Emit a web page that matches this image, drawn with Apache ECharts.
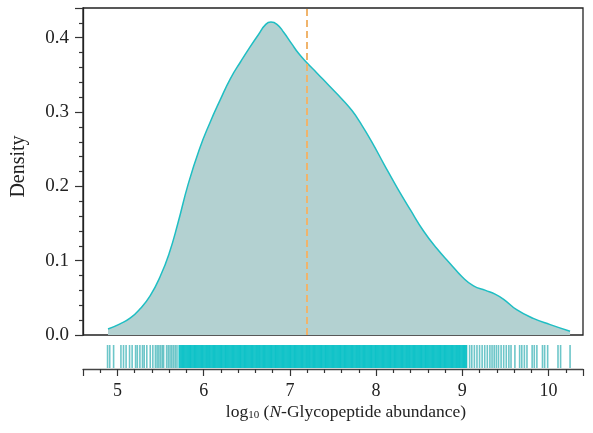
<!DOCTYPE html>
<html>
<head>
<meta charset="utf-8">
<script src="https://cdn.jsdelivr.net/npm/echarts@6/dist/echarts.min.js"></script>
<style>
  html, body { margin: 0; padding: 0; background: #fff; }
  #chart-container { width: 593px; height: 433px; }
</style>
</head>
<body>
<div id="chart-container"></div>
<script>
// density curve: x = log10 abundance, y = density
var densityX = [4.89, 5.03, 5.15, 5.26, 5.38, 5.50, 5.60, 5.70, 5.82, 5.95, 6.07, 6.19, 6.31, 6.43, 6.54, 6.64, 6.72,
    6.78, 6.85, 6.93, 7.02, 7.10, 7.20, 7.31, 7.45, 7.60, 7.72, 7.82, 7.95, 8.10, 8.25, 8.40, 8.55, 8.70,
    8.86, 9.00, 9.13, 9.27, 9.38, 9.48, 9.63, 9.83, 10.02, 10.25];
var densityY = [0.008, 0.015, 0.023, 0.035, 0.053, 0.080, 0.110, 0.150, 0.203, 0.250, 0.285, 0.316, 0.345, 0.368, 0.388, 0.405, 0.418,
    0.421, 0.418, 0.407, 0.392, 0.379, 0.366, 0.353, 0.336, 0.318, 0.302, 0.285, 0.260, 0.228, 0.197, 0.168, 0.140, 0.117,
    0.096, 0.078, 0.066, 0.060, 0.055, 0.048, 0.034, 0.022, 0.014, 0.005];

var medianX = 7.2;

// rug marks
var rugSparse = [4.885, 4.91, 4.955, 5.04, 5.07, 5.10, 5.14, 5.17, 5.21, 5.23, 5.26, 5.29, 5.31, 5.34, 5.38, 5.41,
    5.44, 5.46, 5.48, 5.50, 5.52, 5.535, 5.57, 5.59, 5.61, 5.63, 5.65, 5.67, 5.69,
    9.05, 9.085, 9.11, 9.14, 9.17, 9.2, 9.23, 9.26, 9.29, 9.32, 9.345, 9.37, 9.395, 9.42, 9.45, 9.48, 9.51,
    9.54, 9.565, 9.61, 9.665, 9.69, 9.72, 9.75, 9.81, 9.835, 9.865, 9.93, 9.955, 9.99, 10.11, 10.14, 10.25];
var rugDense = [
    5.72, 5.74, 5.76, 5.78, 5.80, 5.82, 5.84, 5.86, 5.88, 5.90,
    5.92, 5.94, 5.96, 5.98, 6.00, 6.02, 6.04, 6.06, 6.08, 6.10,
    6.12, 6.14, 6.16, 6.18, 6.20, 6.22, 6.24, 6.26, 6.28, 6.30,
    6.32, 6.34, 6.36, 6.38, 6.40, 6.42, 6.44, 6.46, 6.48, 6.50,
    6.52, 6.54, 6.56, 6.58, 6.60, 6.62, 6.64, 6.66, 6.68, 6.70,
    6.72, 6.74, 6.76, 6.78, 6.80, 6.82, 6.84, 6.86, 6.88, 6.90,
    6.92, 6.94, 6.96, 6.98, 7.00, 7.02, 7.04, 7.06, 7.08, 7.10,
    7.12, 7.14, 7.16, 7.18, 7.20, 7.22, 7.24, 7.26, 7.28, 7.30,
    7.32, 7.34, 7.36, 7.38, 7.40, 7.42, 7.44, 7.46, 7.48, 7.50,
    7.52, 7.54, 7.56, 7.58, 7.60, 7.62, 7.64, 7.66, 7.68, 7.70,
    7.72, 7.74, 7.76, 7.78, 7.80, 7.82, 7.84, 7.86, 7.88, 7.90,
    7.92, 7.94, 7.96, 7.98, 8.00, 8.02, 8.04, 8.06, 8.08, 8.10,
    8.12, 8.14, 8.16, 8.18, 8.20, 8.22, 8.24, 8.26, 8.28, 8.30,
    8.32, 8.34, 8.36, 8.38, 8.40, 8.42, 8.44, 8.46, 8.48, 8.50,
    8.52, 8.54, 8.56, 8.58, 8.60, 8.62, 8.64, 8.66, 8.68, 8.70,
    8.72, 8.74, 8.76, 8.78, 8.80, 8.82, 8.84, 8.86, 8.88, 8.90,
    8.92, 8.94, 8.96, 8.98, 9.00, 9.02, 9.04];

var font = '"Liberation Serif", "DejaVu Serif", serif';
var tealLine = '#1FBEC3';
var tealRug = '#00BFC4';

var dom = document.getElementById('chart-container');
var myChart = echarts.init(dom, null, { renderer: 'canvas' });

var option = {
    animation: false,
    grid: [
        { left: 83, right: 10, top: 8, bottom: 98, show: true, borderColor: '#222', borderWidth: 1.3 },
        { left: 83, right: 10, top: 344, bottom: 64 }
    ],
    xAxis: [
        { gridIndex: 0, type: 'value', min: 4.6, max: 10.4, show: false },
        {
            gridIndex: 1, type: 'value', min: 4.6, max: 10.4, splitNumber: 6,
            axisLine: { lineStyle: { color: '#444', width: 1.3 } },
            axisTick: { length: 7, lineStyle: { color: '#333', width: 1.2 } },
            minorTick: { show: true, splitNumber: 5, length: 4, lineStyle: { color: '#333', width: 1.2 } },
            splitLine: { show: false },
            axisLabel: {
                showMinLabel: false, showMaxLabel: false, margin: 13,
                fontFamily: font, fontSize: 18, color: '#222'
            },
            name: '{a|log}{s|10}{a| (}{i|N}{a|-Glycopeptide abundance)}',
            nameLocation: 'middle',
            nameGap: 34,
            nameTextStyle: {
                padding: [0, 0, 0, 26],
                rich: {
                    a: { fontFamily: font, fontSize: 17.5, color: '#222' },
                    i: { fontFamily: font, fontSize: 17.5, fontStyle: 'italic', color: '#222' },
                    s: { fontFamily: font, fontSize: 11, color: '#222', verticalAlign: 'bottom', padding: [7, 0, 0, 0] }
                }
            }
        }
    ],
    yAxis: [
        {
            gridIndex: 0, type: 'value', min: 0, max: 0.44, interval: 0.1,
            axisLine: { show: true, lineStyle: { color: '#222', width: 1.3 } },
            axisTick: { length: 8, lineStyle: { color: '#333', width: 1.2 } },
            minorTick: { show: true, splitNumber: 5, length: 4, lineStyle: { color: '#333', width: 1.2 } },
            splitLine: { show: false },
            axisLabel: {
                showMaxLabel: false, margin: 14,
                fontFamily: font, fontSize: 19, color: '#222',
                formatter: function (v) { return v.toFixed(1); }
            },
            name: 'Density',
            nameLocation: 'middle',
            nameGap: 54,
            nameTextStyle: { fontFamily: font, fontSize: 20, color: '#222', padding: [0, 0, 0, 10] }
        },
        { gridIndex: 1, type: 'value', min: 0, max: 1, show: false }
    ],
    series: [
        {
            type: 'line',
            xAxisIndex: 0, yAxisIndex: 0,
            data: densityX.map(function (x, i) { return [x, densityY[i]]; }),
            smooth: 0.5,
            showSymbol: false,
            lineStyle: { color: tealLine, width: 1.5 },
            areaStyle: { color: '#B3D1D1', opacity: 1 },
            markLine: {
                silent: true,
                symbol: 'none',
                label: { show: false },
                lineStyle: { color: '#F0B46C', type: [7, 4], width: 2 },
                data: [{ xAxis: medianX }]
            },
            z: 2
        },
        {
            type: 'scatter',
            xAxisIndex: 1, yAxisIndex: 1,
            data: rugSparse.map(function (x) { return [x, 0.5]; }),
            symbol: 'rect',
            symbolSize: [1.6, 23],
            itemStyle: { color: '#2FAEB2', opacity: 0.7 }
        },
        {
            type: 'scatter',
            xAxisIndex: 1, yAxisIndex: 1,
            data: rugDense.map(function (x) { return [x, 0.5]; }),
            symbol: 'rect',
            symbolSize: [2.2, 23],
            itemStyle: { color: tealRug, opacity: 0.9 }
        }
    ]
};

myChart.setOption(option);
window.addEventListener('resize', myChart.resize);
</script>
</body>
</html>
